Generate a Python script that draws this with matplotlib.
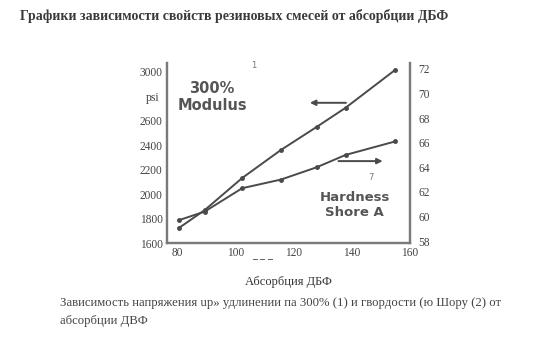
import matplotlib
matplotlib.use("Agg")
import matplotlib.pyplot as plt

# Data
absorption = [80.6, 89.5, 102.4, 115.7, 128.0, 137.9, 155.0]
modulus_psi = [1723, 1870, 2133, 2362, 2551, 2707, 3018]
hardness = [59.7, 60.4, 62.3, 63.0, 64.0, 65.0, 66.1]

x_ticks = [80, 100, 120, 140, 160]
left_ticks = [1600, 1800, 2000, 2200, 2400, 2600, 3000]
right_ticks = [58, 60, 62, 64, 66, 68, 70, 72]

title = "Графики зависимости свойств резиновых смесей от абсорбции ДБФ"
xlabel = "Абсорбция ДБФ"
caption1 = "Зависимость напряжения up» удлинении па 300% (1) и гвордости (ю Шору (2) от"
caption2 = "абсорбции ДВФ"

serif = ["Liberation Serif", "DejaVu Serif"]
line_c = "#4a4a4a"
txt_c = "#444444"
spine_c = "#7a7a7a"

fig = plt.figure(figsize=(5.33, 3.57), dpi=100)
fig.patch.set_facecolor("white")
ax = fig.add_axes([0.313, 0.319, 0.456, 0.505])
ax2 = ax.twinx()

ax.set_xlim(76.5, 159.5)
ax.set_ylim(1600, 3075)
ax2.set_ylim(57.84, 72.48)

ax.plot(absorption, modulus_psi, color=line_c, lw=1.4, marker="o", ms=2.5)
ax2.plot(absorption, hardness, color=line_c, lw=1.4, marker="o", ms=2.5)

for a in (ax, ax2):
    a.spines["top"].set_visible(False)
    for s in ("left", "right", "bottom"):
        a.spines[s].set_color(spine_c)
        a.spines[s].set_linewidth(1.6)
    a.patch.set_visible(False)

ax.set_xticks(x_ticks)
ax.set_xticklabels([str(v) for v in x_ticks], family=serif, fontsize=8.3, color=txt_c)
ax.set_yticks(left_ticks)
ax.set_yticklabels([str(v) for v in left_ticks], family=serif, fontsize=8.3, color=txt_c)
ax2.set_yticks(right_ticks)
ax2.set_yticklabels([str(v) for v in right_ticks], family=serif, fontsize=8.3, color=txt_c)
ax.tick_params(axis="x", length=0, pad=3)
ax.tick_params(axis="y", length=0, pad=3)
ax2.tick_params(axis="y", length=0, pad=6)

# psi unit label on the left axis
ax.text(-0.03, 2790, "psi", transform=ax.get_yaxis_transform(), ha="right", va="center",
        family=serif, fontsize=8.5, color=txt_c)
# dashes before 120 on the x axis
ax.text(109.3, -0.06, "_ _ _", transform=ax.get_xaxis_transform(), ha="center", va="center",
        fontsize=7, color=txt_c)

# Inside labels
ax.text(92, 2795, "300%\nModulus", ha="center", va="center", fontsize=10.5, fontweight="bold",
        color="#555555", linespacing=1.2)
ax.text(141, 1910, "Hardness\nShore A", ha="center", va="center", fontsize=9.5, fontweight="bold",
        color="#555555", linespacing=1.15)
ax.text(106.5, 3050, "1", ha="center", va="center", fontsize=6, color="#777777")
ax.text(146.8, 2140, "7", ha="center", va="center", fontsize=6, color="#777777")

# Arrows
ax.annotate("", xy=(124.7, 2748), xytext=(139.0, 2748),
            arrowprops=dict(arrowstyle="-|>", color=line_c, lw=1.4, mutation_scale=8))
ax2.annotate("", xy=(151.6, 64.5), xytext=(134.5, 64.5),
             arrowprops=dict(arrowstyle="-|>", color=line_c, lw=1.4, mutation_scale=8))

ax.set_xlabel(xlabel, family=serif, fontsize=9, color="#333333", labelpad=12)

fig.text(20 / 533, 1 - 16 / 357, title, family=serif, fontsize=10, fontweight="bold",
         color="#3a3a3a", ha="left", va="center")
fig.text(60 / 533, 1 - 303 / 357, caption1, family=serif, fontsize=9.2, color="#444444",
         ha="left", va="center")
fig.text(60 / 533, 1 - 321 / 357, caption2, family=serif, fontsize=9.2, color="#444444",
         ha="left", va="center")

fig.savefig("out.png", dpi=100, facecolor="white")
